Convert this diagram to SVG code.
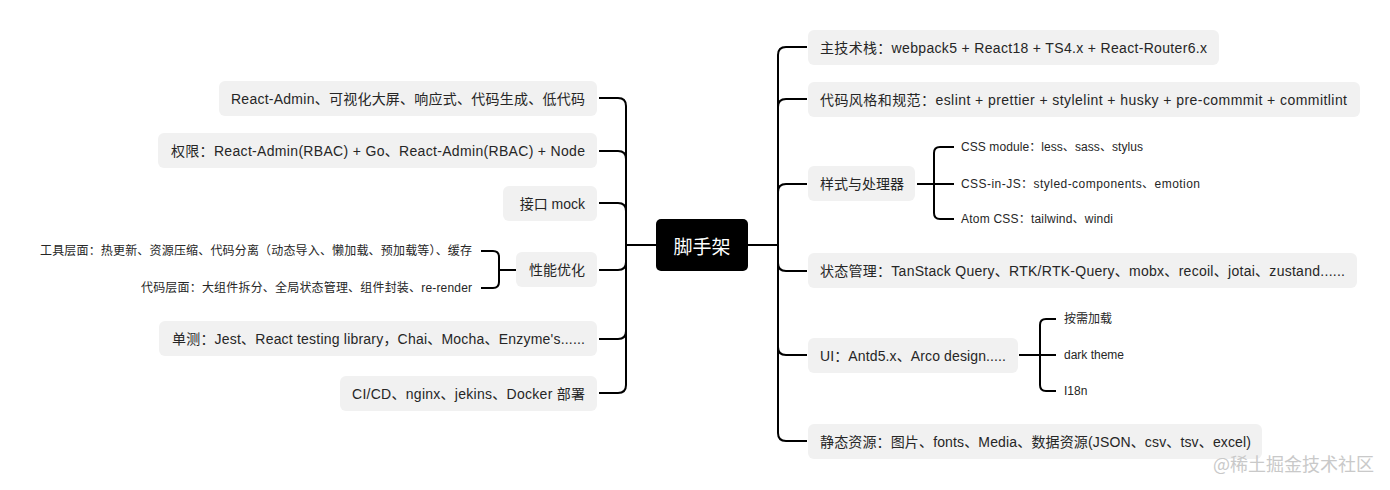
<svg xmlns="http://www.w3.org/2000/svg" width="1390" height="490" viewBox="0 0 1390 490">
<style>
.box{fill:#f1f1f1}
.t{font-family:"Liberation Sans","Noto Sans CJK SC",sans-serif;font-size:14px;fill:#262626;dominant-baseline:central}
.s{font-family:"Liberation Sans","Noto Sans CJK SC",sans-serif;font-size:12px;fill:#262626;dominant-baseline:central}
.e{text-anchor:end}
.c{fill:none;stroke:#000;stroke-width:2;stroke-linecap:butt}
.wm{font-family:"Noto Sans CJK SC",sans-serif;font-size:18px;fill:#c9c9c9;dominant-baseline:central}
</style>
<rect width="1390" height="490" fill="#fff"/>
<g id="connectors">
<path class="c" d="M626 245H656M748 245H778"/>
<path class="c" d="M599 98H618Q626 98 626 106V385Q626 393 618 393H599"/>
<path class="c" d="M599 151H618Q626 151 626 159"/>
<path class="c" d="M599 203H618Q626 203 626 211"/>
<path class="c" d="M599 270H618Q626 270 626 262"/>
<path class="c" d="M599 339H618Q626 339 626 331"/>
<path class="c" d="M516 270H499M481 251H493Q499 251 499 257V282Q499 288 493 288H481"/>
<path class="c" d="M807 47H786Q778 47 778 55V433Q778 441 786 441H807"/>
<path class="c" d="M807 99H786Q778 99 778 107"/>
<path class="c" d="M807 184H786Q778 184 778 192"/>
<path class="c" d="M807 271H786Q778 271 778 263"/>
<path class="c" d="M807 355H786Q778 355 778 347"/>
<path class="c" d="M917 184H954M954 147H940Q934 147 934 153V213Q934 219 940 219H954"/>
<path class="c" d="M1019 355H1056M1056 319H1046Q1040 319 1040 325V385Q1040 391 1046 391H1056"/>
</g>
<g id="root">
<rect x="656" y="219" width="92" height="52" rx="5" fill="#000"/>
<text x="702" y="245" text-anchor="middle" style="font-family:'Noto Sans CJK SC',sans-serif;font-size:19px;fill:#fff;dominant-baseline:central">脚手架</text>
</g>
<g id="l1"><rect class="box" x="219" y="81" width="378" height="35" rx="6"/><text class="t e" x="585" y="98.5" textLength="354">React-Admin、可视化大屏、响应式、代码生成、低代码</text></g>
<g id="l2"><rect class="box" x="158" y="133" width="439" height="35" rx="6"/><text class="t e" x="585" y="150.5" textLength="414">权限：React-Admin(RBAC) + Go、React-Admin(RBAC) + Node</text></g>
<g id="l3"><rect class="box" x="503" y="186" width="94" height="35" rx="6"/><text class="t e" x="585" y="203.5">接口 mock</text></g>
<g id="l4"><rect class="box" x="516" y="252" width="81" height="35" rx="6"/><text class="t e" x="585" y="269.5">性能优化</text></g>
<g id="l4a"><text class="s e" x="472" y="251" textLength="432">工具层面：热更新、资源压缩、代码分离（动态导入、懒加载、预加载等）、缓存</text></g>
<g id="l4b"><text class="s e" x="472" y="288" textLength="331">代码层面：大组件拆分、全局状态管理、组件封装、re-render</text></g>
<g id="l5"><rect class="box" x="159" y="321" width="438" height="35" rx="6"/><text class="t e" x="585" y="338.5" textLength="413">单测：Jest、React testing library，Chai、Mocha、Enzyme's......</text></g>
<g id="l6"><rect class="box" x="340" y="376" width="257" height="35" rx="6"/><text class="t e" x="585" y="393.5" textLength="233">CI/CD、nginx、jekins、Docker 部署</text></g>
<g id="r1"><rect class="box" x="808" y="30" width="411" height="35" rx="6"/><text class="t" x="820" y="47.5" textLength="387">主技术栈：webpack5 + React18 + TS4.x + React-Router6.x</text></g>
<g id="r2"><rect class="box" x="808" y="82" width="552" height="35" rx="6"/><text class="t" x="820" y="99.5" textLength="527">代码风格和规范：eslint + prettier + stylelint + husky + pre-commmit + commitlint</text></g>
<g id="r3"><rect class="box" x="808" y="166" width="107" height="35" rx="6"/><text class="t" x="820" y="183.5">样式与处理器</text></g>
<g id="r3a"><text class="s" x="961" y="147" textLength="182">CSS module：less、sass、stylus</text></g>
<g id="r3b"><text class="s" x="961" y="184" textLength="239">CSS-in-JS：styled-components、emotion</text></g>
<g id="r3c"><text class="s" x="961" y="219" textLength="152">Atom CSS：tailwind、windi</text></g>
<g id="r4"><rect class="box" x="808" y="253" width="549" height="35" rx="6"/><text class="t" x="820" y="270.5" textLength="525">状态管理：TanStack Query、RTK/RTK-Query、mobx、recoil、jotai、zustand......</text></g>
<g id="r5"><rect class="box" x="808" y="338" width="210" height="35" rx="6"/><text class="t" x="820" y="355.5" textLength="186">UI：Antd5.x、Arco design.....</text></g>
<g id="r5a"><text class="s" x="1064" y="319">按需加载</text></g>
<g id="r5b"><text class="s" x="1064" y="355">dark theme</text></g>
<g id="r5c"><text class="s" x="1064" y="391">I18n</text></g>
<g id="r6"><rect class="box" x="808" y="424" width="454" height="35" rx="6"/><text class="t" x="820" y="441.5" textLength="431">静态资源：图片、fonts、Media、数据资源(JSON、csv、tsv、excel)</text></g>
<text class="wm" x="1213" y="463">@稀土掘金技术社区</text>
</svg>
